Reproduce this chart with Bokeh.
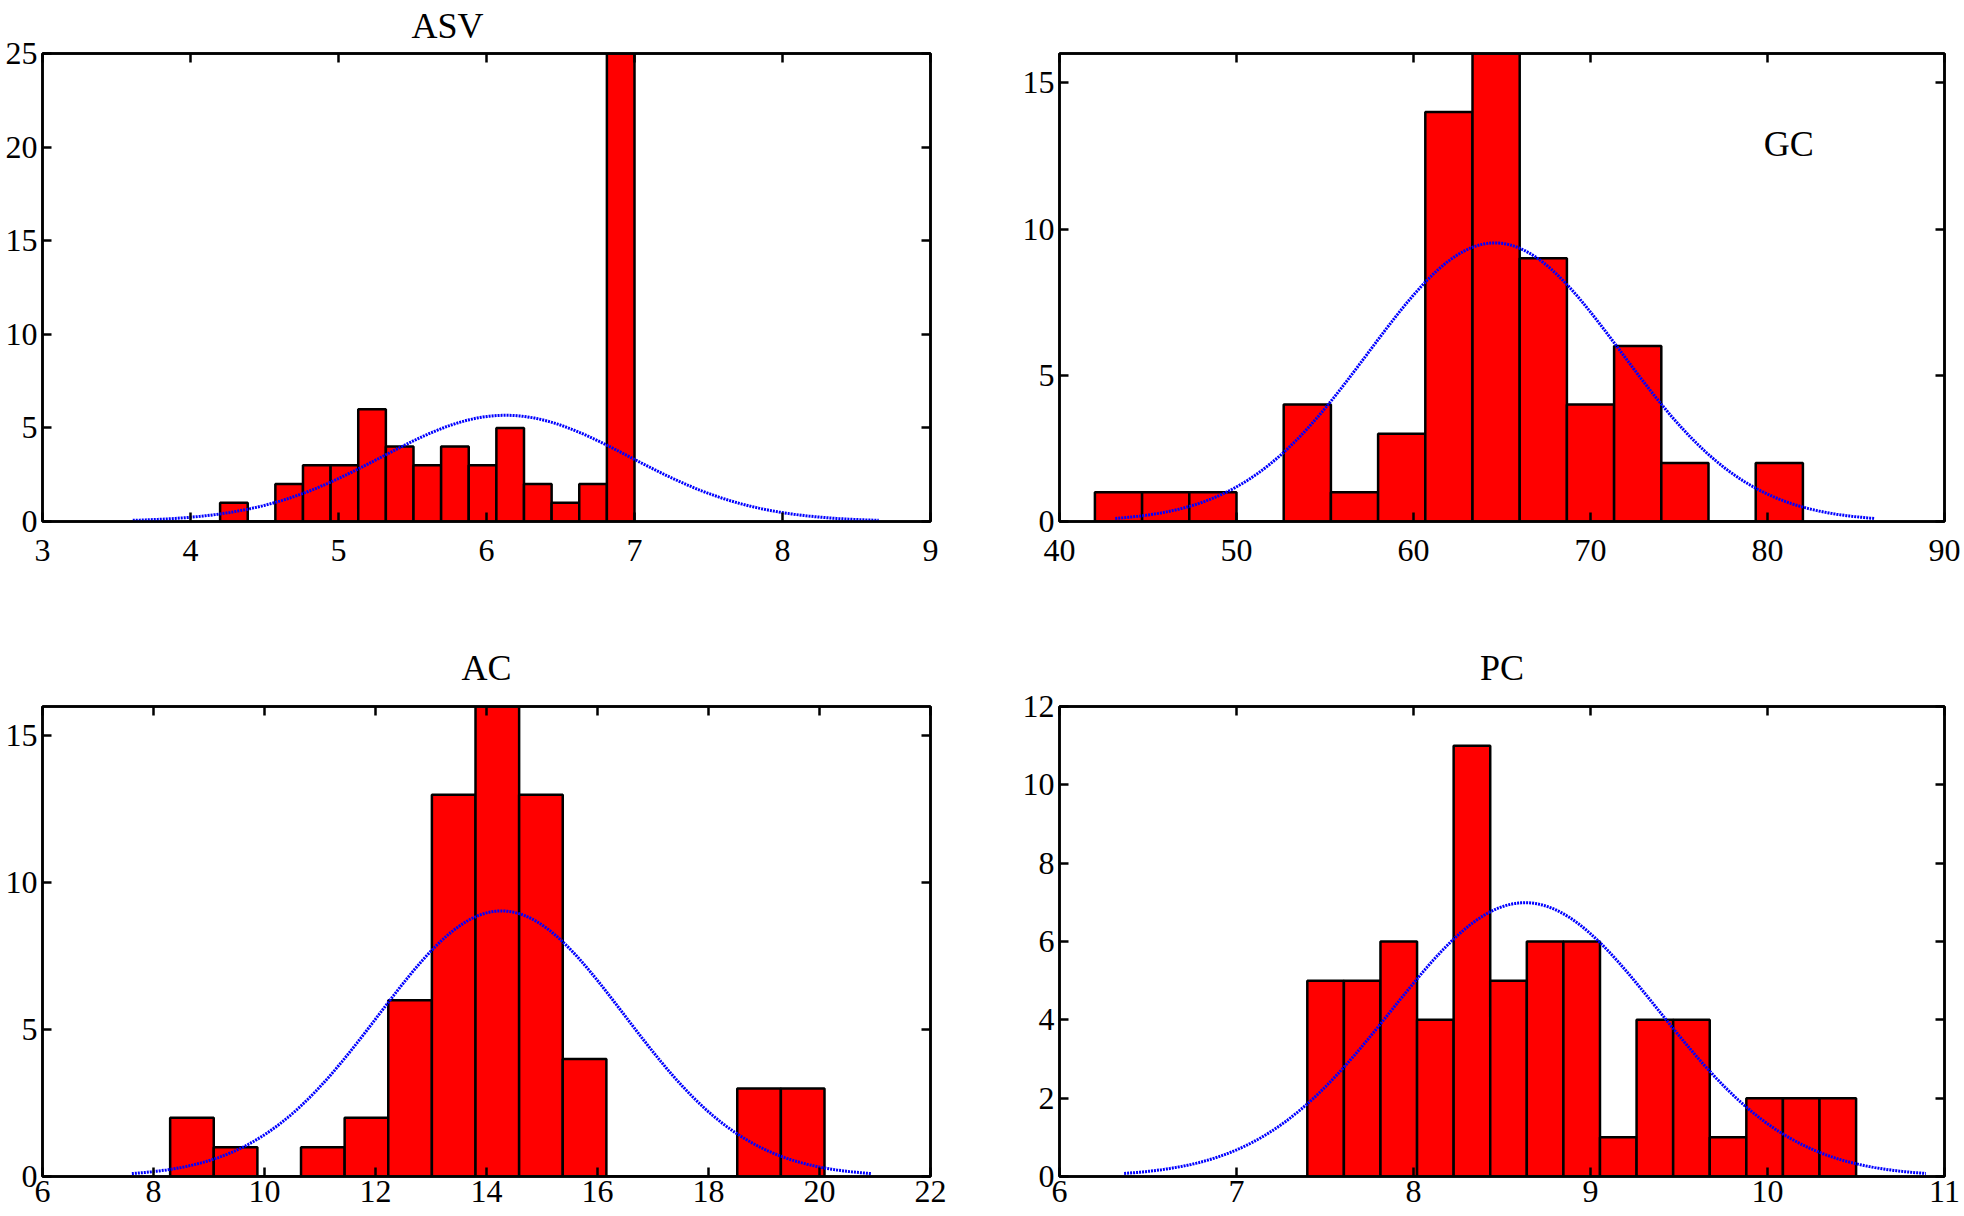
import numpy as np
from bokeh.plotting import figure
from bokeh.layouts import column, row
from bokeh.models import Range1d, FixedTicker, LinearAxis, Label
from bokeh.embed import file_html
from bokeh.resources import INLINE

# ---------------- data ----------------
# ASV histogram
asv_bin_start = 4.2
asv_bin_width = 0.18667
asv_counts = [1, 0, 2, 3, 3, 6, 4, 3, 4, 3, 5, 2, 1, 2, 25]
asv_fit_mean, asv_fit_sd = 6.13, 0.84

# GC histogram
gc_bin_start = 42.0
gc_bin_width = 2.6667
gc_counts = [1, 1, 1, 0, 4, 1, 3, 14, 16, 9, 4, 6, 2, 0, 2]
gc_fit_mean, gc_fit_sd = 64.6, 7.15

# AC histogram
ac_bin_start = 8.3
ac_bin_width = 0.786
ac_counts = [2, 1, 0, 1, 2, 6, 13, 16, 13, 4, 0, 0, 0, 3, 3]
ac_fit_mean, ac_fit_sd = 14.27, 2.22

# PC histogram
pc_bin_start = 7.4
pc_bin_width = 0.2067
pc_counts = [5, 5, 6, 4, 11, 5, 6, 6, 1, 4, 4, 1, 2, 2, 2]
pc_fit_mean, pc_fit_sd = 8.63, 0.755

asv_xticks = [3, 4, 5, 6, 7, 8, 9]
asv_yticks = [0, 5, 10, 15, 20, 25]
gc_xticks = [40, 50, 60, 70, 80, 90]
gc_yticks = [0, 5, 10, 15]
ac_xticks = [6, 8, 10, 12, 14, 16, 18, 20, 22]
ac_yticks = [0, 5, 10, 15]
pc_xticks = [6, 7, 8, 9, 10, 11]
pc_yticks = [0, 2, 4, 6, 8, 10, 12]

FONT = "Liberation Serif"
TICK_FS = "32px"
TITLE_FS = "36px"


def panel(title, counts, start, width, mean, sd, xr, yr, xticks, yticks,
          w, h, bl, br, bt, bb, title_standoff=11, title_valign="bottom",
          title_align="center", title_offset=0, x_standoff=4):
    p = figure(width=w, height=h, output_backend="svg", toolbar_location=None,
               x_range=Range1d(*xr), y_range=Range1d(*yr),
               min_border_left=bl, min_border_right=br,
               min_border_top=bt, min_border_bottom=bb,
               title=title if title else None)
    p.xgrid.visible = False
    p.ygrid.visible = False
    p.outline_line_color = "black"
    p.outline_line_width = 2.5
    p.outline_line_alpha = 1
    if title:
        p.title.text_font = FONT
        p.title.text_font_size = TITLE_FS
        p.title.text_font_style = "normal"
        p.title.text_color = "black"
        p.title.align = title_align
        p.title.vertical_align = title_valign
        p.title.standoff = title_standoff
        p.title.offset = title_offset

    n = len(counts)
    edges = [start + i * width for i in range(n + 1)]
    p.quad(left=edges[:-1], right=edges[1:], bottom=0, top=counts,
           fill_color="#FF0000", line_color="black", line_width=2.5)

    total = sum(counts)
    xs = np.linspace(mean - 3 * sd, mean + 3 * sd, 300)
    ys = total * width / (sd * np.sqrt(2 * np.pi)) * np.exp(-0.5 * ((xs - mean) / sd) ** 2)
    p.line(xs, ys, line_color="#0000FF", line_width=3, line_dash="2 1")

    for ax, ticks, so in ((p.xaxis[0], xticks, x_standoff), (p.yaxis[0], yticks, 5)):
        ax.ticker = FixedTicker(ticks=ticks)
        ax.minor_tick_line_color = None
        ax.major_tick_in = 9
        ax.major_tick_out = 0
        ax.major_tick_line_width = 2.5
        ax.major_tick_line_color = "black"
        ax.axis_line_width = 2.5
        ax.axis_line_color = "black"
        ax.major_label_text_font = FONT
        ax.major_label_text_font_size = TICK_FS
        ax.major_label_text_color = "black"
        ax.major_label_standoff = so

    for side, ticks in (("above", xticks), ("right", yticks)):
        ax = LinearAxis(ticker=FixedTicker(ticks=ticks))
        ax.minor_tick_line_color = None
        ax.major_tick_in = 9
        ax.major_tick_out = 0
        ax.major_tick_line_width = 2.5
        ax.axis_line_width = 2.5
        ax.major_label_text_font_size = "1px"
        ax.major_label_text_color = None
        ax.major_label_standoff = 0
        p.add_layout(ax, side)
    return p


# layout geometry (page has no margin in Bokeh's template)
LW, RW = 1000, 962
TH, BH = 600, 616

# the ASV heading sits a little left of centre in the original
p1 = panel("ASV", asv_counts, asv_bin_start, asv_bin_width, asv_fit_mean, asv_fit_sd,
           (3, 9), (0, 25), asv_xticks, asv_yticks, LW, TH, 42, 70, 51, 79,
           title_standoff=11, title_valign="top", title_align="left", title_offset=369,
           x_standoff=18)
p2 = panel(None, gc_counts, gc_bin_start, gc_bin_width, gc_fit_mean, gc_fit_sd,
           (40, 90), (0, 16), gc_xticks, gc_yticks, RW, TH, 59, 18, 51, 79, x_standoff=18)
p2.add_layout(Label(x=81.2, y=12.9, text="GC", text_font=FONT, text_font_size=TITLE_FS,
                    text_align="center", text_baseline="middle", text_color="black"))
p3 = panel("AC", ac_counts, ac_bin_start, ac_bin_width, ac_fit_mean, ac_fit_sd,
           (6, 22), (0, 16), ac_xticks, ac_yticks, LW, BH, 42, 70, 106, 40,
           title_standoff=38, x_standoff=4)
p4 = panel("PC", pc_counts, pc_bin_start, pc_bin_width, pc_fit_mean, pc_fit_sd,
           (6, 11), (0, 12), pc_xticks, pc_yticks, RW, BH, 59, 18, 106, 40,
           title_standoff=38, x_standoff=4)

layout = column(row(p1, p2), row(p3, p4))
open("out.html", "w").write(file_html(layout, INLINE))
